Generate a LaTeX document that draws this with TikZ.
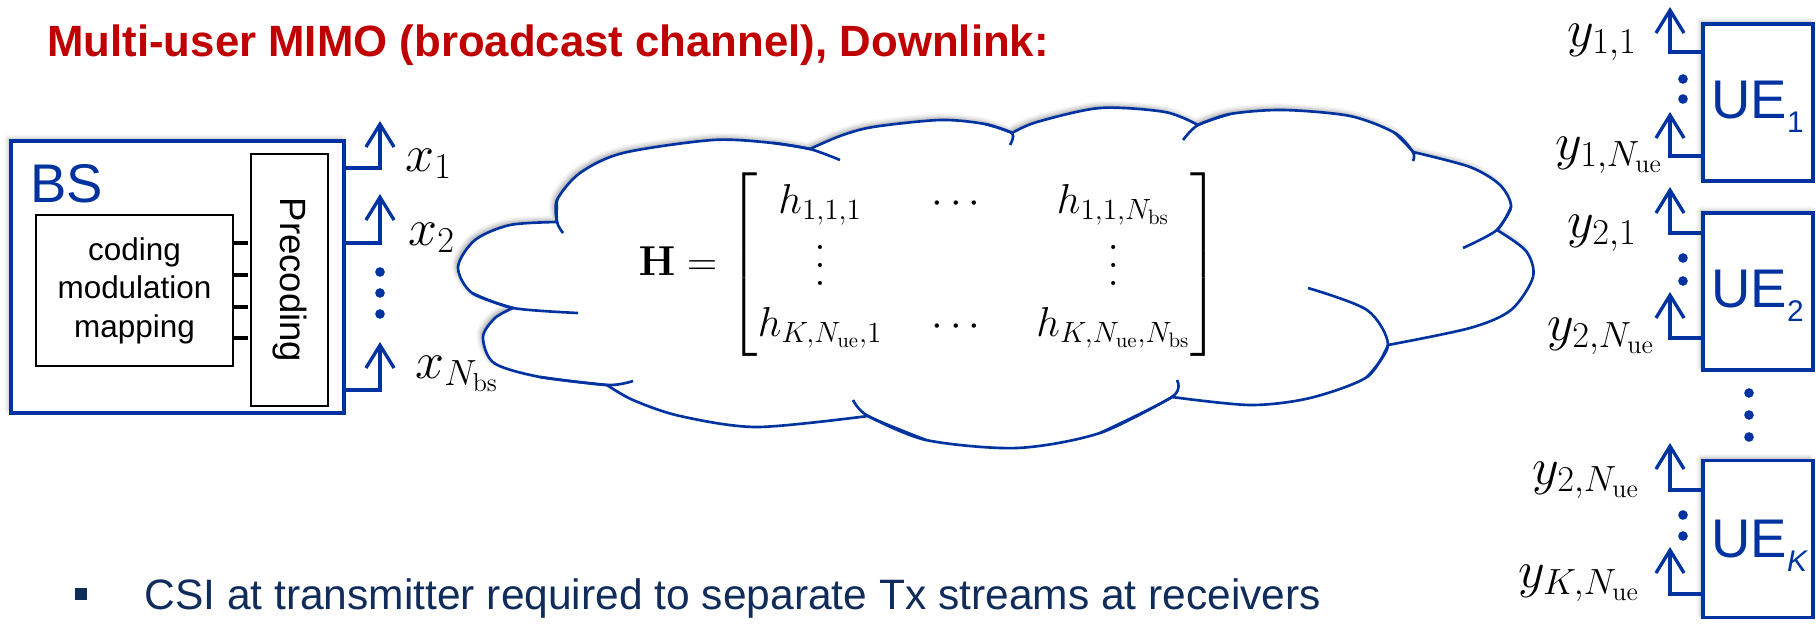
\RequirePackage{fix-cm}
\documentclass[tikz,border=0pt]{standalone}
\usepackage{amsmath}
\usepackage{graphicx}
\usepackage[no-math]{fontspec}
\setmainfont{Liberation Sans}
\usetikzlibrary{arrows.meta,shadows.blur}
\definecolor{bsblue}{HTML}{0033A0}
\definecolor{titlered}{HTML}{C00000}
\definecolor{navytext}{HTML}{102C5B}
\newcommand{\uesub}[1]{\raisebox{-8pt}{\fontsize{17}{17}\selectfont #1}}
\newcommand{\tallvdots}{\lower0.26em\vbox{\baselineskip=0.44em \lineskiplimit=0pt \hbox{$.$}\hbox{$.$}\hbox{$.$}}}

\begin{document}
\begin{tikzpicture}[x=0.02cm, y=0.02cm,
    bluebox/.style={draw=bsblue, line width=1.8pt, fill=white, inner sep=0pt,
      blur shadow={shadow xshift=-1.5pt, shadow yshift=1.5pt, shadow blur radius=2.5pt, shadow opacity=30}},
    blackbox/.style={draw=black, line width=1.2pt, inner sep=0pt},
    antenna/.style={bsblue, line width=1.9pt, -{Straight Barb[length=13pt, width=16pt]}},
    bluedot/.style={circle, fill=bsblue, inner sep=0pt, minimum size=5.5pt},
    tick/.style={line width=2.2pt},
    cloudline/.style={draw=bsblue, line width=1.5pt},
    siglabel/.style={inner sep=0pt, font=\fontsize{29.6}{30}\selectfont},
    uelabel/.style={inner sep=0pt, text=bsblue, font=\fontsize{31}{31}\selectfont, anchor=base west}]
    \useasboundingbox (0,0) rectangle (1816,-623);
    % Title and note
    \node[anchor=base west, inner sep=0pt, text=titlered, font=\bfseries\fontsize{24.9}{26}\selectfont] (title) at (47,-56) {Multi-user MIMO (broadcast channel), Downlink:};
    \node[fill=navytext, inner sep=0pt, minimum size=0.24cm] (bullet) at (81,-594) {};
    \node[anchor=base west, inner sep=0pt, text=navytext, font=\fontsize{24.2}{26}\selectfont] (note) at (144,-609) {CSI at transmitter required to separate Tx streams at receivers};
    % Base station
    \node[bluebox, minimum width=6.66cm, minimum height=5.44cm] (bs) at (177.5,-277) {};
    \node[anchor=base west, inner sep=0pt, text=bsblue, font=\fontsize{31}{31}\selectfont] (bslabel) at (30,-202) {BS};
    \node[blackbox, minimum width=1.54cm, minimum height=5.04cm, font=\fontsize{20.8}{21}\selectfont] (prec) at (289.5,-280) {\rotatebox{-90}{Precoding}};
    \node[blackbox, minimum width=3.94cm, minimum height=3.02cm, align=center, font=\fontsize{17.9}{21.9}\selectfont] (coding) at (134.5,-290.5) {coding\\modulation\\mapping};
    \foreach \y in {243,275,307,338}
        \draw[tick] (coding.east |- 0,-\y) -- ++(14,0);
    % Transmit antennas
    \foreach \name/\yfoot/\ytip in {tx1/168/121, tx2/243/194, txn/390/342} {
        \coordinate (\name) at (380,-\ytip);
        \draw[antenna] (bs.east |- 0,-\yfoot) -| (\name);
    }
    \foreach \y in {272,293,314}
        \node[bluedot] (txdot\y) at (380,-\y) {};
    \node[siglabel, anchor=base west] (x1) at (405,-171) {$x_1$};
    \node[siglabel, anchor=base west] (x2) at (408,-245) {$x_2$};
    \node[siglabel, anchor=base west] (xn) at (415,-378) {$x_{N_\mathrm{bs}}$};
    % Channel cloud
    \filldraw[cloudline, fill=white, blur shadow={shadow xshift=-1.5pt, shadow yshift=1.5pt, shadow blur radius=2.5pt, shadow opacity=35}]
        plot[smooth] coordinates {(513,-308) (472,-293) (458,-267) (475,-240) (510,-225) (557,-222)}
        -- plot[smooth] coordinates {(557,-222) (557,-200) (580,-173) (623,-153) (713,-140) (773,-143) (810,-149)}
        -- plot[smooth] coordinates {(810,-149) (840,-136) (873,-127) (940,-120) (985,-124) (1012,-133)}
        -- plot[smooth] coordinates {(1012,-133) (1037,-122) (1100,-108) (1165,-112) (1198,-125)}
        -- plot[smooth] coordinates {(1198,-125) (1230,-114) (1283,-110) (1350,-116) (1395,-133) (1413,-152)}
        -- plot[smooth] coordinates {(1413,-152) (1470,-167) (1500,-185) (1511,-207) (1497,-230)}
        -- plot[smooth] coordinates {(1497,-230) (1526,-251) (1533,-277) (1511,-310) (1470,-328) (1388,-345)}
        -- plot[smooth] coordinates {(1388,-345) (1367,-377) (1310,-398) (1250,-405) (1172,-397)}
        -- plot[smooth] coordinates {(1172,-397) (1100,-433) (1017,-448) (926,-440) (868,-416)}
        -- plot[smooth] coordinates {(868,-416) (757,-427) (680,-416) (633,-400) (607,-385)}
        -- plot[smooth] coordinates {(607,-385) (540,-377) (494,-363) (483,-337) (495,-318) (513,-308)}
        -- cycle;
    % puff ends inside the cloud
    \draw[cloudline] plot[smooth] coordinates {(472,-293) (513,-308) (578,-313)};
    \draw[cloudline] plot[smooth] coordinates {(557,-200) (557,-222) (563,-233)};
    \draw[cloudline] plot[smooth] coordinates {(773,-143) (810,-149) (840,-160)};
    \draw[cloudline] plot[smooth] coordinates {(985,-124) (1012,-133) (1010,-145)};
    \draw[cloudline] plot[smooth] coordinates {(1230,-114) (1198,-125) (1183,-140)};
    \draw[cloudline] plot[smooth] coordinates {(1395,-133) (1413,-152) (1413,-161)};
    \draw[cloudline] plot[smooth] coordinates {(1511,-207) (1497,-230) (1463,-248)};
    \draw[cloudline] plot[smooth] coordinates {(1367,-377) (1388,-345) (1367,-310) (1308,-288)};
    \draw[cloudline] plot[smooth] coordinates {(1100,-433) (1172,-397) (1177,-380)};
    \draw[cloudline] plot[smooth] coordinates {(926,-440) (868,-416) (853,-400)};
    \draw[cloudline] plot[smooth] coordinates {(540,-377) (607,-385) (633,-381)};
    \node[inner sep=0pt, font=\fontsize{23.8}{28.5}\selectfont] (hmat) at (929,-265)
        {\setlength\arraycolsep{14pt}%
        $\mathbf{H}=\begin{bmatrix}
            h_{1,1,1} & \cdots & h_{1,1,N_\mathrm{bs}}\\[6.5pt]
            \tallvdots & & \tallvdots\\[6.5pt]
            h_{K,N_\mathrm{ue},1} & \cdots & h_{K,N_\mathrm{ue},N_\mathrm{bs}}
        \end{bmatrix}$};
    % User equipments
    \foreach \name/\yc in {ue1/102.5, ue2/291.5, uek/539}
        \node[bluebox, minimum width=2.2cm, minimum height=3.14cm] (\name) at (1758,-\yc) {};
    \node[uelabel] (ue1lab) at (1711,-118) {UE\uesub{1}};
    \node[uelabel] (ue2lab) at (1711,-307) {UE\uesub{2}};
    \node[uelabel] (ueklab) at (1711,-557) {UE\uesub{\textit{K}}};
    % Receive antennas
    \foreach \ue/\name/\yfoot/\ytip in {ue1/rx11/52/7, ue1/rx12/156/112, ue2/rx21/233/187,
                                        ue2/rx22/338/292, uek/rxk1/490/443, uek/rxk2/594/547} {
        \coordinate (\name) at (1670,-\ytip);
        \draw[antenna] (\ue.west |- 0,-\yfoot) -| (\name);
    }
    \foreach \y in {79,99,258,281,515,536}
        \node[bluedot] (rxdot\y) at (1683,-\y) {};
    \foreach \y in {393,415,437}
        \node[bluedot] (uedot\y) at (1749,-\y) {};
    \node[siglabel, anchor=base east] (y11) at (1637,-46) {$y_{1,1}$};
    \node[siglabel, anchor=base east] (y1n) at (1663,-159) {$y_{1,N_\mathrm{ue}}$};
    \node[siglabel, anchor=base east] (y21) at (1637,-237) {$y_{2,1}$};
    \node[siglabel, anchor=base east] (y2n) at (1655,-340) {$y_{2,N_\mathrm{ue}}$};
    \node[siglabel, anchor=base east] (yk1) at (1640,-484) {$y_{2,N_\mathrm{ue}}$};
    \node[siglabel, anchor=base east] (ykn) at (1640,-587) {$y_{K,N_\mathrm{ue}}$};
\end{tikzpicture}
\end{document}
